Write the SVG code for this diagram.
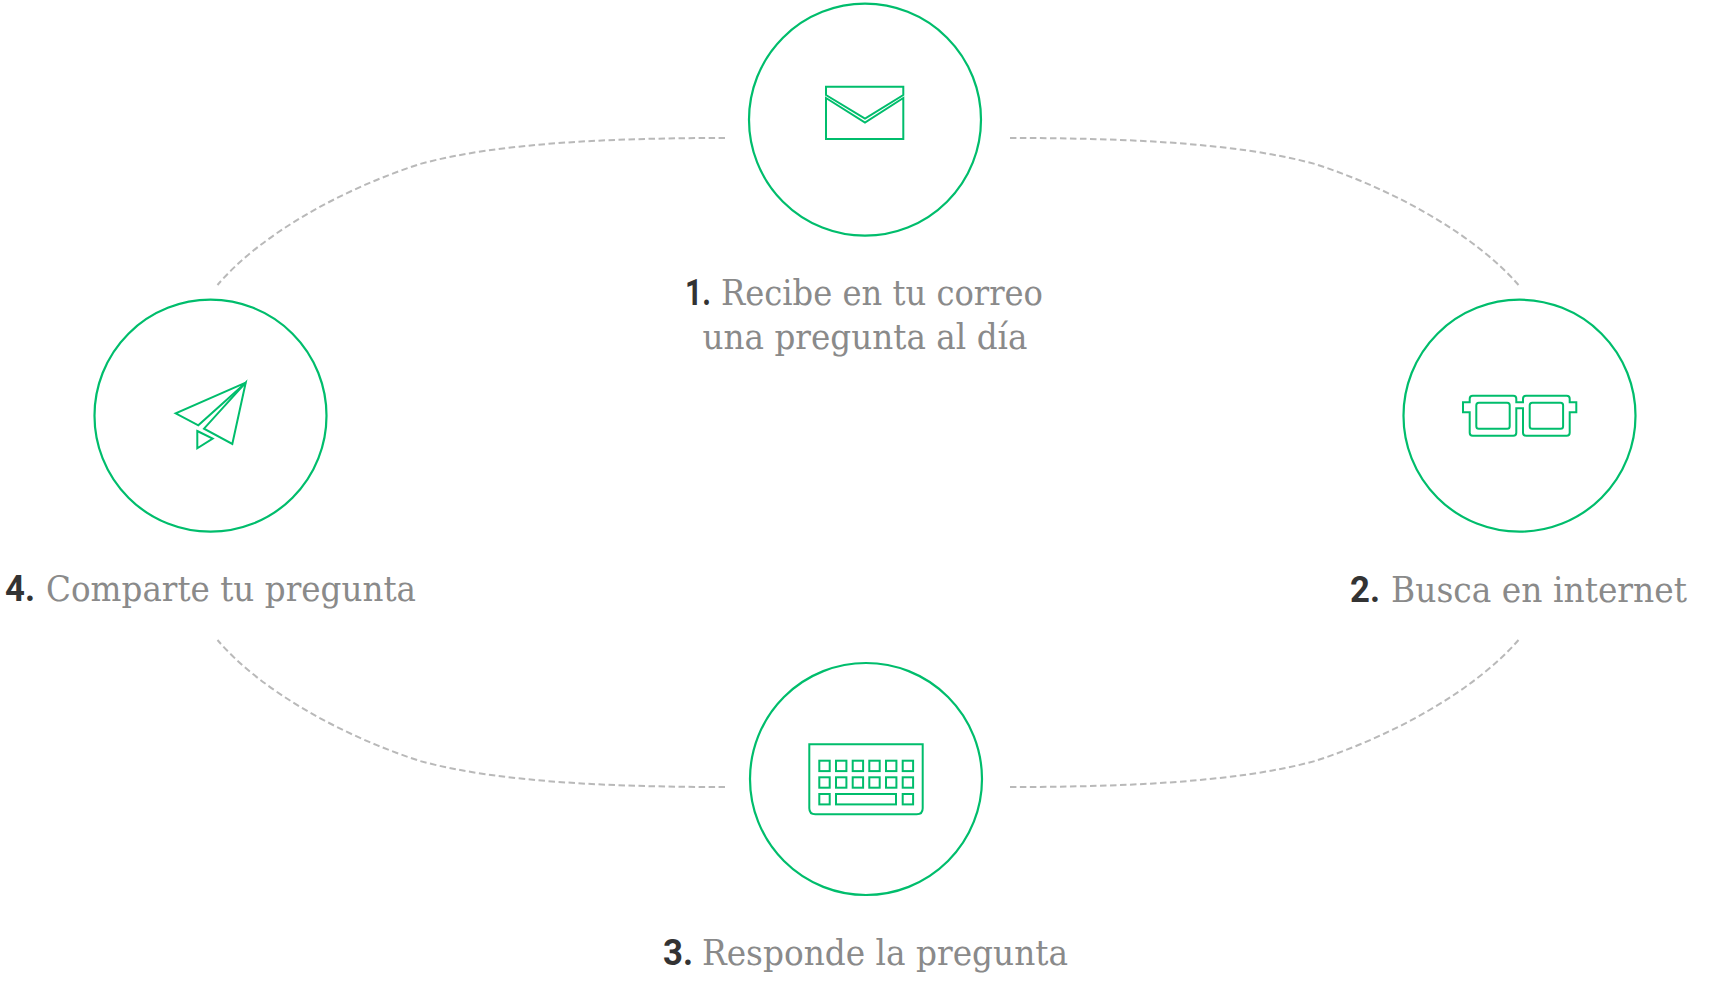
<svg xmlns="http://www.w3.org/2000/svg" width="1710" height="988" viewBox="0 0 1710 988">
<style>
.ring{fill:#fff;stroke:#00bd6c;stroke-width:2.2}
.ic{fill:none;stroke:#00bd6c;stroke-width:2;stroke-linejoin:miter}
.dash{fill:none;stroke:#b9b9b9;stroke-width:2;stroke-dasharray:6.5 3.5}
.n{font-family:Roboto,"Liberation Sans",sans-serif;font-size:36px;font-weight:700;fill:#333}
.t{font-family:"DejaVu Serif","Liberation Serif",serif;font-size:36px;font-weight:400;fill:#8a8a8a}
</style>
<rect width="1710" height="988" fill="#fff"/>
<g id="connectors">
<path class="dash" d="M725 138C620 138 500 142 420 164C340 190 260 235 217.500 285"/>
<path class="dash" d="M1010 138C1115 138 1235 142 1315 164C1395 190 1475 235 1518.500 285"/>
<path class="dash" d="M725 787C620 787 500 783 420 761C340 735 260 690 217.500 640"/>
<path class="dash" d="M1010 787C1115 787 1235 783 1315 761C1395 735 1475 690 1518.500 640"/>
</g>
<g id="node1">
<circle class="ring" cx="865" cy="119.700" r="116"/>
<path class="ic" d="M826 95V86.700H903.300V95L865 118.500Z"/>
<path class="ic" d="M826 98L865 122.500L903.300 98V139H826Z"/>
<text class="n" x="685" y="305" textLength="26" lengthAdjust="spacingAndGlyphs">1.</text>
<text class="t" x="721" y="305" textLength="322" lengthAdjust="spacingAndGlyphs">Recibe en tu correo</text>
<text class="t" x="702.500" y="349" textLength="325" lengthAdjust="spacingAndGlyphs">una pregunta al día</text>
</g>
<g id="node2">
<circle class="ring" cx="1519.500" cy="415.700" r="116"/>
<path class="ic" d="M1469.700 402.300V398.700q0-3 3-3H1513.300q3 0 3 3V402.300H1523V398.700q0-3 3-3H1566.700q3 0 3 3V402.300H1576.300V412.300H1569.700V432.700q0 3-3 3H1526q-3 0-3-3V408.300H1516.300V432.700q0 3-3 3H1472.700q-3 0-3-3V412.300H1463V402.300Z"/>
<rect class="ic" x="1476.300" y="402.700" width="33.400" height="26" rx="2.500"/>
<rect class="ic" x="1529.700" y="402.700" width="33.400" height="26" rx="2.500"/>
<text class="n" x="1350" y="602" textLength="30" lengthAdjust="spacingAndGlyphs">2.</text>
<text class="t" x="1391" y="602" textLength="296" lengthAdjust="spacingAndGlyphs">Busca en internet</text>
</g>
<g id="node3">
<circle class="ring" cx="866" cy="779" r="116"/>
<path class="ic" d="M809.300 744.300H922.700V808.300q0 6-6 6H815.300q-6 0-6-6Z"/>
<g class="ic">
<rect x="819.300" y="760.700" width="10.400" height="10.400"/><rect x="836" y="760.700" width="10.400" height="10.400"/><rect x="852.700" y="760.700" width="10.400" height="10.400"/><rect x="869.300" y="760.700" width="10.400" height="10.400"/><rect x="886" y="760.700" width="10.400" height="10.400"/><rect x="902.700" y="760.700" width="10.400" height="10.400"/>
<rect x="819.300" y="777.300" width="10.400" height="10.400"/><rect x="836" y="777.300" width="10.400" height="10.400"/><rect x="852.700" y="777.300" width="10.400" height="10.400"/><rect x="869.300" y="777.300" width="10.400" height="10.400"/><rect x="886" y="777.300" width="10.400" height="10.400"/><rect x="902.700" y="777.300" width="10.400" height="10.400"/>
<rect x="819.300" y="794" width="10.400" height="10.400"/><rect x="836" y="794" width="60" height="10.400"/><rect x="902.700" y="794" width="10.400" height="10.400"/>
</g>
<text class="n" x="663" y="964.500" textLength="30" lengthAdjust="spacingAndGlyphs">3.</text>
<text class="t" x="702" y="964.500" textLength="366" lengthAdjust="spacingAndGlyphs">Responde la pregunta</text>
</g>
<g id="node4">
<circle class="ring" cx="210.500" cy="415.700" r="116"/>
<path class="ic" d="M245.700 382.700L175.700 413.300L198.300 425.300Z"/>
<path class="ic" d="M245.700 382.700L204 428.700L232.300 444Z"/>
<path class="ic" d="M197.300 431L212.700 438.700L197.300 448.300Z"/>
<text class="n" x="5" y="600.500" textLength="30" lengthAdjust="spacingAndGlyphs">4.</text>
<text class="t" x="46" y="600.500" textLength="370" lengthAdjust="spacingAndGlyphs">Comparte tu pregunta</text>
</g>
</svg>
